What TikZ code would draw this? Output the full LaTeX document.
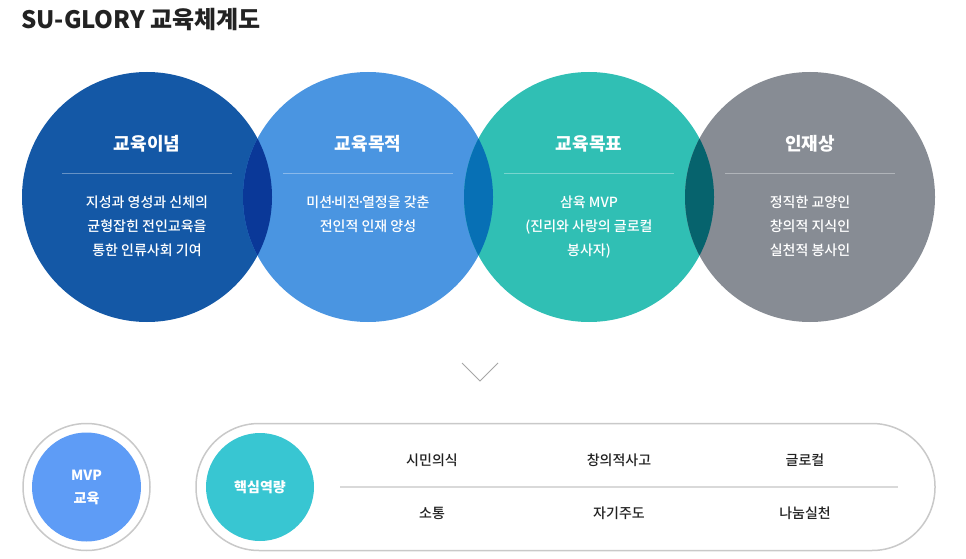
\documentclass[tikz,border=0pt]{standalone}
\usepackage{fontspec}
\setmainfont{Noto Sans CJK KR}
\newfontfamily\krm{Noto Sans CJK KR Medium}
\usetikzlibrary{calc}
\definecolor{cA}{HTML}{1458A6}
\definecolor{cB}{HTML}{4A95E1}
\definecolor{cC}{HTML}{30BFB4}
\definecolor{cD}{HTML}{878C94}
\definecolor{lAB}{HTML}{0A3898}
\definecolor{lBC}{HTML}{0770B5}
\definecolor{lCD}{HTML}{06636D}
\definecolor{mvp}{HTML}{5E9CF6}
\definecolor{core}{HTML}{38C6D2}
\definecolor{ringgray}{HTML}{C9C9C9}
\definecolor{txtdark}{HTML}{222222}
\newcommand{\ndot}{\kern-3pt·\kern-3pt}
\tikzset{
  bigtitle/.style={text=white, font=\fontsize{18}{18}\selectfont\bfseries, inner sep=0pt, anchor=center},
  bodytxt/.style={text=white, font=\krm\fontsize{14}{24}\selectfont, inner sep=0pt, align=center, anchor=north},
  sepline/.style={white, opacity=0.35, line width=1pt},
  celltxt/.style={text=txtdark, font=\krm\fontsize{14}{14}\selectfont, inner sep=0pt},
  whitelabel/.style={text=white, font=\fontsize{14}{23}\selectfont\bfseries, inner sep=0pt, align=center}
}
\begin{document}
\begin{tikzpicture}[x=1pt,y=-1pt]
\useasboundingbox (0,0) rectangle (966,559);
% title
\node[anchor=west, inner sep=0pt, text=txtdark, font=\fontsize{24}{24}\selectfont\bfseries] (title) at (21,20) {SU-GLORY 교육체계도};
% circles
\def\R{125}
\coordinate (c1) at (147,197);
\coordinate (c2) at (368,197);
\coordinate (c3) at (589,197);
\coordinate (c4) at (810,197);
\fill[cA] (c1) circle (\R);
\fill[cB] (c2) circle (\R);
\fill[cC] (c3) circle (\R);
\fill[cD] (c4) circle (\R);
\begin{scope}
  \clip (c1) circle (\R);
  \fill[lAB] (c2) circle (\R);
\end{scope}
\begin{scope}
  \clip (c2) circle (\R);
  \fill[lBC] (c3) circle (\R);
\end{scope}
\begin{scope}
  \clip (c3) circle (\R);
  \fill[lCD] (c4) circle (\R);
\end{scope}
% circle contents
\foreach \c/\t in {c1/교육이념, c2/교육목적, c3/교육목표, c4/인재상}{
  \node[bigtitle] (\c t) at ($(\c)+(0,-53)$) {\t};
  \draw[sepline] ($(\c)+(-85,-24)$) -- ($(\c)+(85,-24)$);
}
\node[bodytxt] (b1) at ($(c1)+(0,-1)$) {지성과 영성과 신체의\\균형잡힌 전인교육을\\통한 인류사회 기여};
\node[bodytxt] (b2) at ($(c2)+(0,-1)$) {미션\ndot 비전\ndot 열정을 갖춘\\전인적 인재 양성};
\node[bodytxt] (b3) at ($(c3)+(0,-1)$) {삼육 MVP\\(진리와 사랑의 글로컬\\봉사자)};
\node[bodytxt] (b4) at ($(c4)+(0,-1)$) {정직한 교양인\\창의적 지식인\\실천적 봉사인};
% chevron
\coordinate (chl) at (462,363);
\coordinate (chm) at (480,381);
\coordinate (chr) at (498,363);
\draw[gray!70, line width=1pt] (chl) -- (chm) -- (chr);
% MVP circle
\coordinate (mc) at (86.5,487);
\draw[ringgray, line width=1.5pt, fill=white] (mc) circle (63.5);
\fill[mvp] (mc) circle (54.5);
\node[whitelabel] (mvpt) at (mc) {MVP\\교육};
% pill
\draw[ringgray, line width=1.5pt, fill=white, rounded corners=63] (196,423.5) rectangle (935,550.5);
\coordinate (cc) at (260,487);
\fill[core] (cc) circle (54);
\node[whitelabel] (coret) at (cc) {핵심역량};
\draw[ringgray!70, line width=1.2pt] (340,487) -- (898,487);
\node[celltxt] (k1) at (432,460) {시민의식};
\node[celltxt] (k2) at (619,460) {창의적사고};
\node[celltxt] (k3) at (805,460) {글로컬};
\node[celltxt] (k4) at (432,513) {소통};
\node[celltxt] (k5) at (619,513) {자기주도};
\node[celltxt] (k6) at (805,513) {나눔실천};
\end{tikzpicture}
\end{document}
